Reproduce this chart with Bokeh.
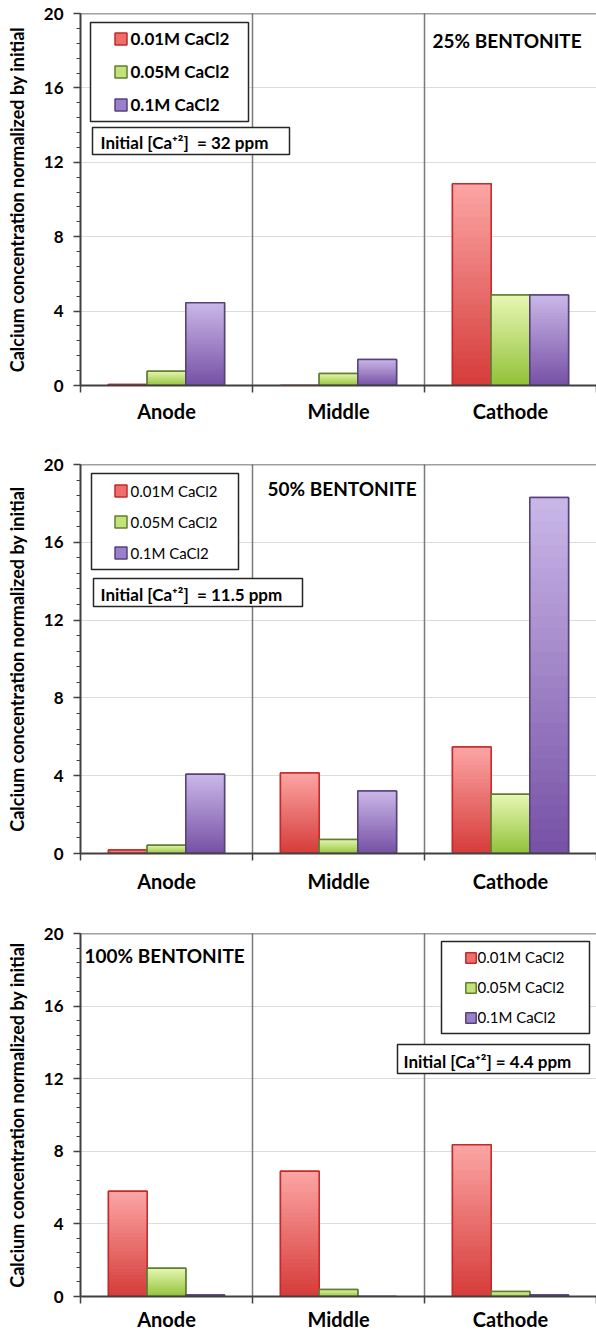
from bokeh.plotting import figure
from bokeh.layouts import column
from bokeh.models import (Range1d, ColumnDataSource, FixedTicker, SingleIntervalTicker, Span,
                          BoxAnnotation, Label, Legend, LegendItem)
from bokeh.transform import dodge
from bokeh.embed import file_html
from bokeh.resources import INLINE

# ---------------- data ----------------
positions = ["Anode", "Middle", "Cathode"]
series = ["0.01M CaCl2", "0.05M CaCl2", "0.1M CaCl2"]

b25_001 = [0.05, 0.0, 10.85]
b25_005 = [0.77, 0.65, 4.86]
b25_01 = [4.45, 1.40, 4.86]

b50_001 = [0.18, 4.14, 5.48]
b50_005 = [0.43, 0.72, 3.04]
b50_01 = [4.07, 3.21, 18.30]

b100_001 = [5.80, 6.90, 8.36]
b100_005 = [1.56, 0.39, 0.27]
b100_01 = [0.08, 0.0, 0.08]

panel_titles = ["25% BENTONITE", "50% BENTONITE", "100% BENTONITE"]
initial_labels = ["Initial [Ca\u207a\u00b2]\u00a0 = 32 ppm",
                  "Initial [Ca\u207a\u00b2]\u00a0 = 11.5 ppm",
                  "Initial [Ca\u207a\u00b2] = 4.4 ppm"]
y_label = "Calcium concentration normalized by initial"

# ---------------- styles ----------------
FONT = "Lato"
FW = 516  # frame width in px
BAR_W = 0.225
OFFSETS = [-BAR_W, 0.0, BAR_W]
GRAD = [("#d63d3b", "#fba4a3", "#c42a28", "#ee6e6c"),
        ("#93c23a", "#e6f6b2", "#5f7f2f", "#c3e37a"),
        ("#7752a6", "#c9b6e7", "#56417f", "#9a80c8")]
NSL = 30

# category centres on a numeric axis (one unit per category)
cat_pos = [i + 0.5 for i in range(len(positions))]
cat_bounds = [float(i) for i in range(len(positions) + 1)]


def hex2rgb(h):
    h = h.lstrip("#")
    return [int(h[i:i + 2], 16) for i in (0, 2, 4)]


def mix(c0, c1, t):
    a, b = hex2rgb(c0), hex2rgb(c1)
    return "#%02x%02x%02x" % tuple(int(round(a[i] + (b[i] - a[i]) * t)) for i in range(3))


def gradient_source(vals, c_bot, c_top):
    xs, bots, tops, cols = [], [], [], []
    for cx, v in zip(cat_pos, vals):
        if v <= 0:
            continue
        for k in range(NSL):
            xs.append(cx)
            bots.append(v * k / NSL)
            tops.append(min(v, v * (k + 1.6) / NSL))
            cols.append(mix(c_bot, c_top, k / (NSL - 1)))
    return ColumnDataSource(dict(x=xs, bottom=bots, top=tops, color=cols))


def make_panel(vals_list, title, init_text, cfg):
    H = cfg["H"]
    p = figure(x_range=Range1d(cat_bounds[0], cat_bounds[-1]), y_range=Range1d(0, 20),
               width=596, height=cfg["top"] + H + cfg["bottom"],
               min_border_left=80, min_border_right=0,
               min_border_top=cfg["top"], min_border_bottom=cfg["bottom"],
               output_backend="svg", toolbar_location=None)
    p.outline_line_color = None
    p.background_fill_color = "white"
    p.border_fill_color = "white"
    p.xgrid.visible = False

    # y axis
    yt = SingleIntervalTicker(interval=4, num_minor_ticks=5)
    ya = p.yaxis[0]
    ya.ticker = yt
    p.ygrid.ticker = yt
    p.ygrid.grid_line_color = "#dcdcdc"
    p.ygrid.grid_line_width = 1
    ya.axis_label = y_label
    ya.axis_label_text_font = FONT
    ya.axis_label_text_font_style = "bold"
    ya.axis_label_text_font_size = "18px"
    ya.axis_label_text_color = "black"
    ya.axis_label_standoff = 13
    ya.major_label_text_font = FONT
    ya.major_label_text_font_style = "bold"
    ya.major_label_text_font_size = "17px"
    ya.major_label_text_color = "black"
    ya.major_label_standoff = 10
    ya.axis_line_color = "#404040"
    ya.axis_line_width = 2
    ya.major_tick_line_color = "#404040"
    ya.major_tick_line_width = 1.5
    ya.major_tick_in = 0
    ya.major_tick_out = 7
    ya.minor_tick_line_color = "#404040"
    ya.minor_tick_line_width = 1.2
    ya.minor_tick_in = 0
    ya.minor_tick_out = 4

    # x axis: labels at category centres, ticks at category boundaries
    xa = p.xaxis[0]
    xa.ticker = FixedTicker(ticks=cat_pos, minor_ticks=cat_bounds)
    xa.major_label_overrides = {c: n for c, n in zip(cat_pos, positions)}
    xa.major_tick_line_color = None
    xa.major_tick_out = 7
    xa.major_tick_in = 0
    xa.minor_tick_line_color = "#404040"
    xa.minor_tick_line_width = 1.5
    xa.minor_tick_out = 7
    xa.minor_tick_in = 0
    xa.axis_line_color = "#404040"
    xa.axis_line_width = 2
    xa.major_label_standoff = cfg["cat_standoff"]
    xa.major_label_text_font = FONT
    xa.major_label_text_font_style = "bold"
    xa.major_label_text_font_size = "20px"
    xa.major_label_text_color = "black"

    # dividers and top border
    for loc in cat_bounds[1:-1]:
        p.add_layout(Span(location=loc, dimension="height",
                          line_color="#7a7a7a", line_width=1.5, level="underlay"))
    p.add_layout(Span(location=20, dimension="width", line_color="#404040",
                      line_width=1.5, level="underlay"))

    # bars: base (also legend glyph), gradient slices, outline on top
    legend_items = []
    for s, vals, off, (cb, ct, cl, cm) in zip(series, vals_list, OFFSETS, GRAD):
        osrc = ColumnDataSource(dict(x=cat_pos, top=vals))
        base = p.vbar(x=dodge("x", off), width=BAR_W, top="top",
                      fill_color=cm, line_color=cl, line_width=1.5, source=osrc)
        src = gradient_source(vals, cb, ct)
        p.vbar(x=dodge("x", off), width=BAR_W, bottom="bottom", top="top",
               fill_color="color", line_color=None, source=src)
        p.vbar(x=dodge("x", off), width=BAR_W, top="top",
               fill_color=None, line_color=cl, line_width=1.5, source=osrc)
        legend_items.append(LegendItem(label=s, renderers=[base], index=0))

    def box(l, r, t, b):
        p.add_layout(BoxAnnotation(left=l / FW * 3, right=r / FW * 3,
                                   top=20 - t / H * 20, bottom=20 - b / H * 20,
                                   fill_color="white", fill_alpha=1,
                                   line_color="#262626", line_alpha=1, line_width=1.5,
                                   level="annotation"))

    # legend box + legend
    box(*cfg["leg_box"])
    leg = Legend(items=legend_items,
                 location=cfg["leg_loc"], orientation="vertical",
                 border_line_color=None, background_fill_alpha=0, padding=0, margin=0,
                 spacing=cfg["leg_spacing"], glyph_width=cfg["glyph"], glyph_height=cfg["glyph"],
                 label_height=21, label_standoff=cfg["leg_standoff"],
                 label_text_font=FONT, label_text_font_style=cfg["leg_style"],
                 label_text_font_size=cfg["leg_size"], label_text_color="black")
    p.add_layout(leg)

    # initial concentration box
    box(*cfg["init_box"])
    p.add_layout(Label(x=cfg["init_xy"][0], y=cfg["init_xy"][1], x_units="screen", y_units="screen",
                       text=init_text, text_font=FONT, text_font_style="bold",
                       text_font_size="17px", text_color="black", text_baseline="middle"))
    # panel title
    p.add_layout(Label(x=cfg["title_xy"][0], y=cfg["title_xy"][1], x_units="screen", y_units="screen",
                       text=title, text_font=FONT, text_font_style="bold",
                       text_font_size="19px", text_color="black", text_baseline="middle"))
    return p


cfg1 = dict(H=372, top=13, bottom=60, cat_standoff=6,
            leg_box=(10, 168, 9, 108), leg_loc=(32.5, 270), leg_spacing=12, glyph=15,
            leg_standoff=3, leg_style="bold", leg_size="17px",
            init_box=(12, 209, 114, 141), init_xy=(20, 243), title_xy=(352, 345))
cfg2 = dict(H=389, top=19, bottom=57, cat_standoff=8,
            leg_box=(11, 158, 9, 105), leg_loc=(32.5, 290), leg_spacing=10, glyph=15,
            leg_standoff=3, leg_style="normal", leg_size="15px",
            init_box=(13, 222, 114, 142), init_xy=(20, 259), title_xy=(187, 365))
cfg3 = dict(H=363, top=23, bottom=37, cat_standoff=3,
            leg_box=(361, 509, 8, 100), leg_loc=(383.5, 268.5), leg_spacing=9, glyph=13,
            leg_standoff=1, leg_style="normal", leg_size="15px",
            init_box=(317, 509, 111, 140), init_xy=(323, 235), title_xy=(4, 341))

p1 = make_panel([b25_001, b25_005, b25_01], panel_titles[0], initial_labels[0], cfg1)
p2 = make_panel([b50_001, b50_005, b50_01], panel_titles[1], initial_labels[1], cfg2)
p3 = make_panel([b100_001, b100_005, b100_01], panel_titles[2], initial_labels[2], cfg3)

layout = column(p1, p2, p3, spacing=0)
open("out.html", "w").write(file_html(layout, INLINE))
